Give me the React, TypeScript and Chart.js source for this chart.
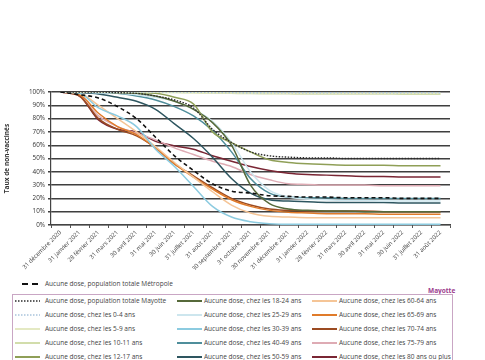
import React, { useEffect, useRef } from "react";
import { Chart, registerables } from "chart.js";
Chart.register(...registerables);

const categories = [
  "31 décembre 2020", "31 janvier 2021", "28 février 2021", "31 mars 2021", "30 avril 2021",
  "31 mai 2021", "30 juin 2021", "31 juillet 2021", "31 août 2021", "30 septembre 2021",
  "31 octobre 2021", "30 novembre 2021", "31 décembre 2021", "31 janvier 2022", "28 février 2022",
  "31 mars 2022", "30 avril 2022", "31 mai 2022", "30 juin 2022", "31 juillet 2022", "31 août 2022",
];

const yTicks = [0, 10, 20, 30, 40, 50, 60, 70, 80, 90, 100];

const metropole = [100, 98, 95.5, 89, 80, 66, 52, 41, 31, 25.5, 24, 22, 21.5, 21, 21, 20.5, 20.5, 20.5, 20, 20, 20];
const mayotte = [100, 100, 100, 99.5, 99, 97, 94, 88, 72, 62, 55, 52, 51, 50.5, 50.5, 50, 50, 50, 50, 50, 50];
const age0_4 = [100, 100, 100, 100, 100, 100, 100, 99.8, 99.7, 99.6, 99.5, 99.5, 99.5, 99.5, 99.5, 99.5, 99.5, 99.5, 99.5, 99.5, 99.5];
const age5_9 = [100, 100, 100, 100, 100, 100, 99.8, 99.6, 99.4, 99.3, 99.2, 99.2, 99.1, 99.1, 99, 99, 99, 99, 99, 99, 99];
const age10_11 = [100, 100, 100, 100, 100, 99.8, 99.6, 99.4, 99.2, 99, 98.8, 98.7, 98.6, 98.5, 98.5, 98.5, 98.5, 98.5, 98.4, 98.4, 98.4];
const age12_17 = [100, 100, 100, 100, 99.5, 99, 96, 91, 70, 62, 55, 49, 47, 46, 45.5, 45, 45, 45, 44.5, 44.5, 44.5];
const age18_24 = [100, 100, 100, 99.5, 99, 97, 93, 87, 77, 60, 30, 16, 12, 11, 10.5, 10.5, 10, 10, 10, 10, 10];
const age25_29 = [100, 100, 99.5, 99, 98, 96, 93, 87, 78, 62, 40, 26, 21, 19.5, 19, 18.5, 18.5, 18, 18, 18, 18];
const age30_39 = [100, 99, 88, 82, 74, 57, 44, 29, 14, 6, 2.5, 1, 0.5, 0.5, 0.5, 0.5, 0.5, 0.5, 0.5, 0.5, 0.5];
const age40_49 = [100, 100, 99.5, 99, 97, 94, 89, 82, 71, 55, 35, 24, 21, 20.5, 20.5, 20, 20, 20, 20, 20, 20];
const age50_59 = [100, 99.5, 98.5, 96, 93, 87, 76, 65, 51, 35, 24, 19, 18, 17.5, 17, 17, 17, 17, 16.5, 16.5, 16.5];
const age60_64 = [100, 99, 90, 80, 70, 59, 47, 36, 25, 15, 9, 6.5, 6, 5.5, 5.5, 5.5, 5.5, 5.5, 5.5, 5.5, 5.5];
const age65_69 = [100, 98, 84, 74, 68, 58, 46, 36, 27, 19, 14, 11, 9.5, 9, 8.5, 8.5, 8.5, 8, 8, 8, 8];
const age70_74 = [100, 97, 80, 72, 67, 58, 46, 37, 28, 20, 15, 12, 11, 10.5, 10.5, 10.5, 10.5, 10, 10, 10, 10];
const age75_79 = [100, 97, 82, 74, 69, 64, 58, 53, 48, 44, 38, 34, 31, 30.5, 30, 30, 30, 29.5, 29.5, 29.5, 29.5];
const age80plus = [100, 97, 79, 72, 70, 63, 59.5, 57, 52, 48, 44, 41, 39, 38, 37.5, 37, 36.5, 36.5, 36, 36, 36];

const metropoleLabel = "Aucune dose, population totale Métropole";
const seriesLabels = [
  "Aucune dose, population totale Mayotte",
  "Aucune dose, chez les 0-4 ans",
  "Aucune dose, chez les 5-9 ans",
  "Aucune dose, chez les 10-11 ans",
  "Aucune dose, chez les 12-17 ans",
  "Aucune dose, chez les 18-24 ans",
  "Aucune dose, chez les 25-29 ans",
  "Aucune dose, chez les 30-39 ans",
  "Aucune dose, chez les 40-49 ans",
  "Aucune dose, chez les 50-59 ans",
  "Aucune dose, chez les 60-64 ans",
  "Aucune dose, chez les 65-69 ans",
  "Aucune dose, chez les 70-74 ans",
  "Aucune dose, chez les 75-79 ans",
  "Aucune dose, chez les 80 ans ou plus",
];
const seriesData = [
  mayotte, age0_4, age5_9, age10_11, age12_17, age18_24, age25_29, age30_39,
  age40_49, age50_59, age60_64, age65_69, age70_74, age75_79, age80plus,
];
const seriesColors = [
  "#2b2b2b", "#a9c4dc", "#e4e9c3", "#d2ddab", "#8f9f57", "#56693a", "#cde6ee", "#8ccbe0",
  "#4f8e9b", "#2e5660", "#f5c597", "#e07b2a", "#9b4b22", "#deabb4", "#7a2634",
];
const seriesDash = [
  [1.5, 1.5], [1.5, 2], [], [], [], [], [], [], [], [], [], [], [], [], [],
];

const FONT = "'Open Sans', 'DejaVu Sans', sans-serif";

export default function App() {
  const ref = useRef<HTMLCanvasElement | null>(null);

  useEffect(() => {
    if (!ref.current) return;
    const datasets: any[] = [
      {
        label: metropoleLabel,
        data: metropole,
        borderColor: "#111",
        borderWidth: 1.6,
        borderDash: [4, 3],
        pointRadius: 0,
        cubicInterpolationMode: "monotone",
        fill: false,
      },
      ...seriesData.map((d, i) => ({
        label: seriesLabels[i],
        data: d,
        borderColor: seriesColors[i],
        borderWidth: i === 0 ? 1.4 : 1.5,
        borderDash: seriesDash[i],
        pointRadius: 0,
        cubicInterpolationMode: "monotone",
        fill: false,
      })),
    ];
    const chart = new Chart(ref.current, {
      type: "line",
      data: { labels: categories, datasets },
      options: {
        animation: false,
        responsive: false,
        maintainAspectRatio: false,
        layout: { padding: { top: 92, left: 3, right: 35, bottom: 5 } },
        plugins: { legend: { display: false }, tooltip: { enabled: false } },
        scales: {
          x: {
            offset: true,
            afterFit: (s: any) => { s.height = 45; },
            grid: { display: true, drawOnChartArea: false, drawTicks: true, tickLength: 3, color: "#555", offset: true },
            border: { color: "#444", width: 1.2 },
            ticks: {
              autoSkip: false,
              maxRotation: 45,
              minRotation: 45,
              padding: 1,
              color: "#444",
              font: { family: FONT, size: 6 },
            },
          },
          y: {
            min: 0,
            max: 100,
            afterFit: (s: any) => { s.width = 48; },
            afterBuildTicks: (s: any) => { s.ticks = yTicks.map((v) => ({ value: v })); },
            grid: { color: "#3f3f3f", lineWidth: 1.4, tickLength: 3, drawTicks: true },
            border: { color: "#444", width: 1.2 },
            ticks: {
              padding: 3,
              color: "#333",
              font: { family: FONT, size: 6.3 },
              callback: (v: any) => v + "%",
            },
            title: {
              display: true,
              text: "Taux de non-vaccinés",
              color: "#333",
              padding: 0,
              font: { family: FONT, size: 6.5, weight: "bold" },
            },
          },
        },
      },
    });
    return () => chart.destroy();
  }, []);

  const rowsY = [301, 315, 329, 343, 357];
  const colLineX = [15, 177, 312];
  const colTextX = [45, 204, 339];

  const lineSvg = (x: number, y: number, w: number, color: string, dash: number[], width: number, key: string) => (
    <svg key={key} style={{ position: "absolute", left: x, top: y - 3, overflow: "visible" }} width={w} height={6}>
      <line x1={0} y1={3} x2={w} y2={3} stroke={color} strokeWidth={width} strokeDasharray={dash.length ? dash.join(",") : undefined} />
    </svg>
  );
  const text = (x: number, y: number, t: string, key: string, extra: any = {}) => (
    <div key={key} style={{ position: "absolute", left: x, top: y - 5, fontFamily: FONT, fontSize: 6.5, lineHeight: "10px", color: "#444", whiteSpace: "nowrap", ...extra }}>{t}</div>
  );

  const legendItems: any[] = [];
  seriesLabels.forEach((lab, i) => {
    const col = Math.floor(i / 5);
    const row = i % 5;
    legendItems.push(lineSvg(colLineX[col], rowsY[row], 25, seriesColors[i], i < 2 ? [1.5, 1.5] : [], i < 2 ? 1.5 : 2, "l" + i));
    legendItems.push(text(colTextX[col], rowsY[row], lab, "t" + i));
  });

  return (
    <div style={{ position: "fixed", left: 0, top: 0, width: 485, height: 360, background: "#fff", overflow: "hidden" }}>
      <canvas ref={ref} width={485} height={275} style={{ position: "absolute", left: 0, top: 0, width: 485, height: 275 }} />
      {lineSvg(22, 284, 20, "#111", [6, 4], 2, "metro-l")}
      {text(45, 284, metropoleLabel, "metro-t")}
      {text(428, 291, "Mayotte", "may", { color: "#9b3b8e", fontWeight: "bold" })}
      <div style={{ position: "absolute", left: 12, top: 294, width: 441, height: 90, border: "1px solid #c9a6c4", boxSizing: "border-box" }} />
      {legendItems}
    </div>
  );
}
